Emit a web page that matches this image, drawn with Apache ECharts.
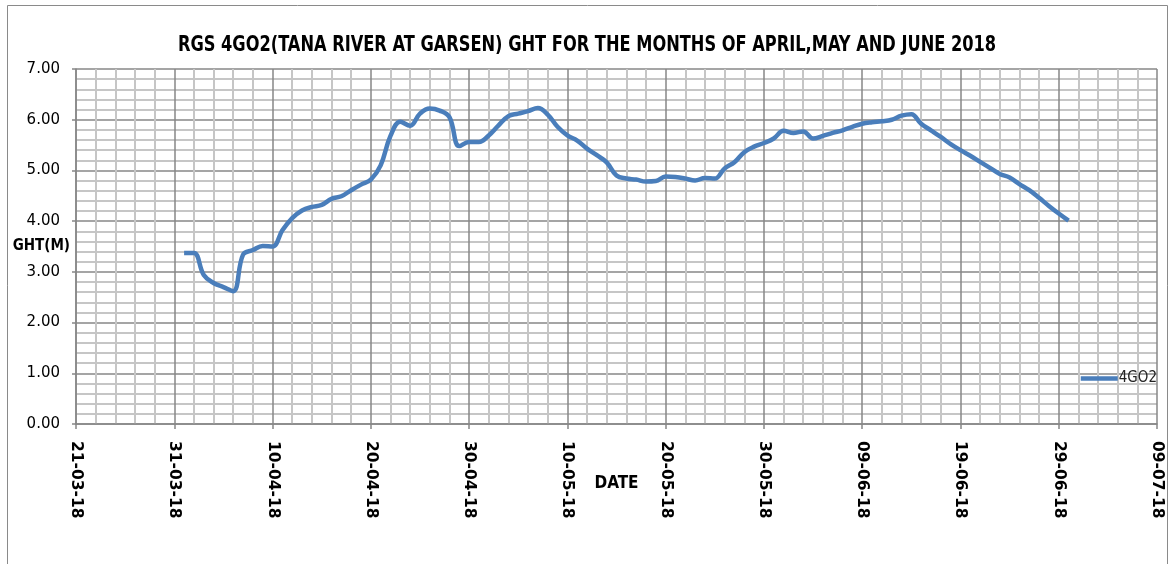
<!DOCTYPE html>
<html>
<head>
<meta charset="utf-8">
<script src="https://cdn.jsdelivr.net/npm/echarts@6/dist/echarts.min.js"></script>
<style>
  html, body { margin: 0; padding: 0; background: #fff; }
  #chart { width: 1170px; height: 564px; }
</style>
</head>
<body>
<div id="chart"></div>
<script>
// daily gauge height readings, 1 April 2018 .. 30 June 2018
const firstReading = "2018-04-01";
const ghtApril = [
  3.37, 3.37, 2.94, 2.78, 2.70, 2.62, 3.34, 3.43, 3.51, 3.50,
  3.82, 4.06, 4.21, 4.28, 4.32, 4.44, 4.49, 4.61, 4.72, 4.82,
  5.10, 5.68, 5.96, 5.88, 6.12, 6.22, 6.18, 6.05, 5.48, 5.56
];
const ghtMay = [
  5.56, 5.69, 5.89, 6.07, 6.12, 6.17, 6.23, 6.10, 5.86, 5.69,
  5.59, 5.43, 5.30, 5.16, 4.90, 4.84, 4.82, 4.78, 4.79, 4.88,
  4.87, 4.84, 4.80, 4.85, 4.84, 5.04, 5.16, 5.36, 5.47, 5.54,
  5.63
];
const ghtJune = [
  5.78, 5.74, 5.77, 5.63, 5.68, 5.74, 5.79, 5.86, 5.92, 5.95,
  5.97, 6.00, 6.08, 6.11, 5.92, 5.79, 5.66, 5.52, 5.40, 5.29,
  5.17, 5.05, 4.93, 4.86, 4.73, 4.61, 4.46, 4.30, 4.15, 4.01
];

// axis: 21-03-18 .. 09-07-18, tick every 10 days
const axisStart = "2018-03-21";
const axisDays = 110;
const tickDays = 10;
const yTicks = [0, 1, 2, 3, 4, 5, 6, 7];

const DAY = 86400000;
const t0 = Date.parse(axisStart + "T00:00:00Z");
const dayOf = (s) => Math.round((Date.parse(s + "T00:00:00Z") - t0) / DAY);

const readings = ghtApril.concat(ghtMay, ghtJune);
const firstDay = dayOf(firstReading);
const seriesData = readings.map((v, i) => [firstDay + i, v]);

const fmtDate = (d) => {
  const dt = new Date(t0 + d * DAY);
  const dd = String(dt.getUTCDate()).padStart(2, "0");
  const mm = String(dt.getUTCMonth() + 1).padStart(2, "0");
  const yy = String(dt.getUTCFullYear()).slice(2);
  return dd + "-" + mm + "-" + yy;
};

const narrow = "'DejaVu Sans Condensed', sans-serif";
const plain = "'DejaVu Sans', sans-serif";
const major = "#878787";
const minor = "#c6c6c6";

const chart = echarts.init(document.getElementById("chart"));

const option = {
  animation: false,
  backgroundColor: "#fff",
  legend: {
    data: ["4GO2"],
    right: 8,
    top: 366,
    icon: "rect",
    itemWidth: 37,
    itemHeight: 4.5,
    itemGap: 4,
    textStyle: { fontFamily: narrow, fontSize: 15, color: "#222", padding: [0, 0, 0, -4] },
  },
  grid: {
    left: 76,
    right: 13,
    top: 69,
    bottom: 140,
    containLabel: false,
  },
  xAxis: {
    type: "value",
    min: 0,
    max: axisDays,
    interval: tickDays,
    name: "DATE",
    nameLocation: "middle",
    nameGap: 51,
    nameMoveOverlap: false,
    nameTextStyle: {
      fontFamily: narrow,
      fontSize: 17,
      fontWeight: "bold",
      color: "#000",
      verticalAlign: "top",
    },
    axisLine: { show: true, onZero: false, lineStyle: { color: major, width: 1.5 } },
    axisTick: { show: true, length: 5, lineStyle: { color: major, width: 1.5 } },
    axisLabel: {
      rotate: -90,
      margin: 17,
      fontFamily: plain,
      fontSize: 15.5,
      fontWeight: "bold",
      color: "#000",
      formatter: (v) => fmtDate(v),
    },
    splitLine: { show: true, lineStyle: { color: major, width: 1.5 } },
    minorTick: { show: false, splitNumber: 5 },
    minorSplitLine: { show: true, lineStyle: { color: minor, width: 2 } },
  },
  yAxis: {
    type: "value",
    min: yTicks[0],
    max: yTicks[yTicks.length - 1],
    interval: 1,
    name: "GHT(M)",
    nameLocation: "middle",
    nameRotate: 0,
    nameGap: 6,
    nameMoveOverlap: false,
    nameTextStyle: {
      fontFamily: narrow,
      fontSize: 15,
      fontWeight: "bold",
      color: "#000",
    },
    axisLine: { show: true, lineStyle: { color: major, width: 1.5 } },
    axisTick: { show: true, length: 4, lineStyle: { color: major, width: 1.5 } },
    axisLabel: {
      margin: 16,
      fontFamily: plain,
      fontSize: 15,
      color: "#000",
      formatter: (v) => v.toFixed(2),
    },
    splitLine: { show: true, lineStyle: { color: major, width: 1.5 } },
    minorTick: { show: false, splitNumber: 5 },
    minorSplitLine: { show: true, lineStyle: { color: minor, width: 2 } },
  },
  graphic: [
    {
      type: "rect",
      silent: true,
      shape: { x: 7.5, y: 5.5, width: 1160, height: 600 },
      style: { fill: "none", stroke: "#8a8a8a", lineWidth: 1 },
    },
    {
      // chart title, squeezed horizontally like the original
      type: "text",
      silent: true,
      x: 587,
      y: 45,
      scaleX: 0.82,
      style: {
        text: "RGS 4GO2(TANA RIVER AT GARSEN) GHT FOR THE MONTHS OF APRIL,MAY AND JUNE 2018",
        font: "bold 22px " + narrow,
        fill: "#000",
        textAlign: "center",
        textVerticalAlign: "middle",
      },
    },
  ],
  series: [
    {
      name: "4GO2",
      type: "line",
      data: seriesData,
      smooth: 0.4,
      symbol: "none",
      lineStyle: { color: "#4a7ebb", width: 4.5 },
      itemStyle: { color: "#4a7ebb" },
    },
  ],
};

chart.setOption(option);
</script>
</body>
</html>
